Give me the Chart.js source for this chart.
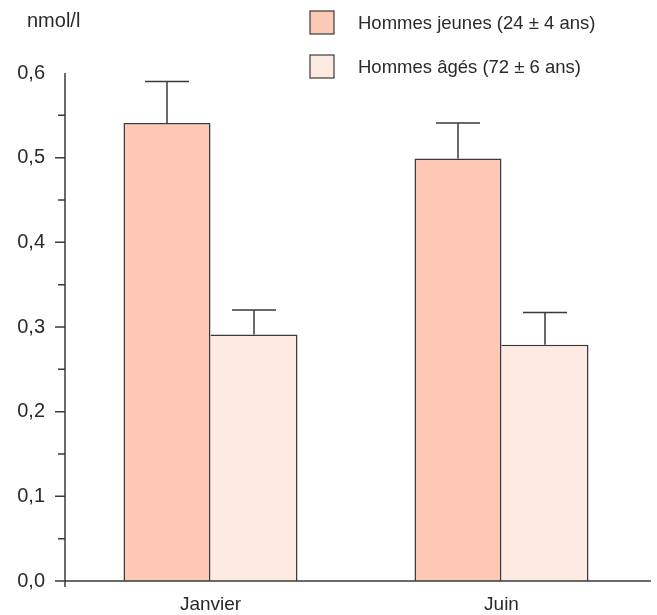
<!DOCTYPE html>
<html>
<head>
<meta charset="utf-8">
<script src="https://cdn.jsdelivr.net/npm/chart.js@4"></script>
<style>
  html, body { margin: 0; padding: 0; background: #fff; }
  #wrap { width: 657px; height: 615px; position: relative; }
</style>
</head>
<body>
<div id="wrap"><canvas id="graphique"></canvas></div>
<script>
// Données
const categories = ['Janvier', 'Juin'];
const labelsSeries = ['Hommes jeunes (24 \u00b1 4 ans)', 'Hommes \u00e2g\u00e9s (72 \u00b1 6 ans)'];
const jeunes = [0.541, 0.499];
const jeunesErreur = [0.049, 0.042];
const ages = [0.291, 0.279];
const agesErreur = [0.029, 0.038];
const graduations = [0, 0.1, 0.2, 0.3, 0.4, 0.5, 0.6];

const couleurJeunes = '#fbc9b5';
const couleurAges = '#fdebe3';
const couleurTrait = '#3a3a3a';
const couleurTexte = '#2a2a2a';
const police = '"Liberation Sans", Arial, sans-serif';

// Barres d'erreur, graduations et légende dessinées à la main
const pluginDecor = {
    id: 'decor',
    afterDatasetsDraw(chart) {
        const ctx = chart.ctx;
        const y = chart.scales.y;
        ctx.save();
        ctx.strokeStyle = couleurTrait;
        ctx.lineWidth = 1.5;

        // barres d'erreur
        chart.data.datasets.forEach((ds, i) => {
            const meta = chart.getDatasetMeta(i);
            meta.data.forEach((bar, j) => {
                const haut = y.getPixelForValue(ds.data[j] + ds.erreurs[j]);
                ctx.beginPath();
                ctx.moveTo(bar.x, bar.y);
                ctx.lineTo(bar.x, haut);
                ctx.moveTo(bar.x - 22, haut);
                ctx.lineTo(bar.x + 22, haut);
                ctx.stroke();
            });
        });

        // axes
        const gauche = chart.chartArea.left;
        const bas = y.getPixelForValue(0);
        ctx.beginPath();
        ctx.moveTo(gauche, y.getPixelForValue(0.6));
        ctx.lineTo(gauche, bas + 6);
        ctx.moveTo(gauche, bas);
        ctx.lineTo(chart.width - 6, bas);
        ctx.stroke();

        // graduations principales et secondaires
        ctx.beginPath();
        graduations.forEach(v => {
            if (v >= 0.6) return;
            const py = y.getPixelForValue(v);
            ctx.moveTo(gauche - 10, py);
            ctx.lineTo(gauche, py);
            const pm = y.getPixelForValue(v + 0.05);
            ctx.moveTo(gauche - 7, pm);
            ctx.lineTo(gauche, pm);
        });
        ctx.stroke();

        // unité
        ctx.fillStyle = couleurTexte;
        ctx.font = '20px ' + police;
        ctx.textAlign = 'left';
        ctx.textBaseline = 'middle';
        ctx.fillText('nmol/l', 27, 21);

        // légende
        ctx.font = '18.5px ' + police;
        chart.data.datasets.forEach((ds, i) => {
            const by = 11 + i * 44;
            ctx.fillStyle = ds.backgroundColor;
            ctx.fillRect(310, by, 24, 23);
            ctx.strokeStyle = couleurTrait;
            ctx.lineWidth = 1.2;
            ctx.strokeRect(310, by, 24, 23);
            ctx.fillStyle = couleurTexte;
            ctx.fillText(ds.label, 358, by + 13);
        });
        ctx.restore();
    }
};

new Chart(document.getElementById('graphique'), {
    type: 'bar',
    data: {
        labels: categories,
        datasets: [
            {
                label: labelsSeries[0],
                data: jeunes,
                erreurs: jeunesErreur,
                backgroundColor: couleurJeunes,
                borderColor: couleurTrait,
                borderWidth: { top: 1.5, left: 1.5, right: 1.5, bottom: 0 }
            },
            {
                label: labelsSeries[1],
                data: ages,
                erreurs: agesErreur,
                backgroundColor: couleurAges,
                borderColor: couleurTrait,
                borderWidth: { top: 1.5, left: 0, right: 1.5, bottom: 0 }
            }
        ]
    },
    options: {
        responsive: true,
        maintainAspectRatio: false,
        animation: false,
        layout: { padding: { top: 73, right: 10, left: 0, bottom: 0 } },
        datasets: {
            bar: { barPercentage: 1, categoryPercentage: 0.598 }
        },
        scales: {
            x: {
                grid: { display: false, drawTicks: false },
                border: { display: false },
                ticks: {
                    color: couleurTexte,
                    font: { family: police, size: 19 },
                    padding: 12
                },
                afterFit(scale) { scale.height = 34; }
            },
            y: {
                min: 0,
                max: 0.6,
                grid: { display: false, drawTicks: false },
                border: { display: false },
                afterBuildTicks(scale) {
                    scale.ticks = graduations.map(v => ({ value: v }));
                },
                ticks: {
                    color: couleurTexte,
                    font: { family: police, size: 20 },
                    padding: 20,
                    callback: v => v.toFixed(1).replace('.', ',')
                },
                afterFit(scale) { scale.width = 65; }
            }
        },
        plugins: {
            legend: { display: false },
            tooltip: { enabled: false }
        }
    },
    plugins: [pluginDecor]
});
</script>
</body>
</html>
